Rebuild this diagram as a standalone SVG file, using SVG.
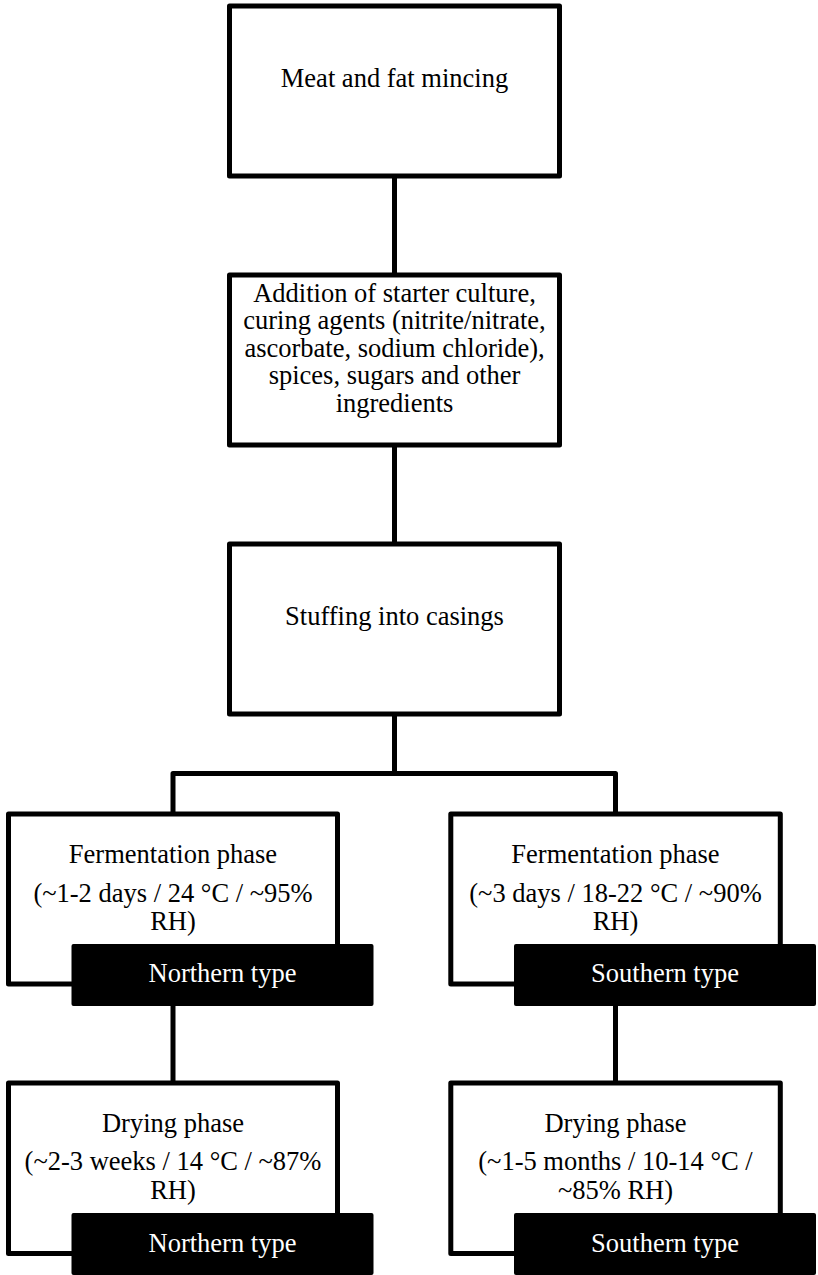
<svg xmlns="http://www.w3.org/2000/svg" width="818" height="1275" viewBox="0 0 818 1275">
<style>
.box{fill:#fff;stroke:#000;stroke-width:5;stroke-linejoin:round}
.lbl{fill:#000}
.conn{fill:none;stroke:#000;stroke-width:5;stroke-linejoin:round}
.w{fill:#fff}
</style>
<rect width="818" height="1275" fill="#fff"/>
<g id="connectors">
<path class="conn" d="M394.5 175 V277"/>
<path class="conn" d="M394.5 444 V546"/>
<path class="conn" d="M394.5 713 V773.5"/>
<path class="conn" d="M173 816 V773.5 H615.5 V816"/>
<path class="conn" d="M173 1004 V1085"/>
<path class="conn" d="M615.5 1004 V1085"/>
</g>
<g id="mincing" font-family="'Liberation Serif', serif" font-size="26.5" text-anchor="middle">
<rect class="box" x="229.5" y="6" width="330" height="170"/>
<text x="394.5" y="87">Meat and fat mincing</text>
</g>
<g id="addition" font-family="'Liberation Serif', serif" font-size="26.5" text-anchor="middle">
<rect class="box" x="229.5" y="275" width="330" height="170"/>
<text x="394.5" y="301.7">Addition of starter culture,</text>
<text x="394.5" y="329.2">curing agents (nitrite/nitrate,</text>
<text x="394.5" y="356.7">ascorbate, sodium chloride),</text>
<text x="394.5" y="384.2">spices, sugars and other</text>
<text x="394.5" y="411.7">ingredients</text>
</g>
<g id="stuffing" font-family="'Liberation Serif', serif" font-size="26.5" text-anchor="middle">
<rect class="box" x="229.5" y="544" width="330" height="170"/>
<text x="394.5" y="625">Stuffing into casings</text>
</g>
<g id="ferm-north" font-family="'Liberation Serif', serif" font-size="26.5" text-anchor="middle">
<rect class="box" x="8.5" y="814" width="329" height="170"/>
<text x="173" y="863">Fermentation phase</text>
<text x="173" y="902">(~1-2 days / 24 °C / ~95%</text>
<text x="173" y="930">RH)</text>
<rect class="lbl" x="71.5" y="944" width="302" height="62" rx="2"/>
<text class="w" x="222.5" y="982">Northern type</text>
</g>
<g id="ferm-south" font-family="'Liberation Serif', serif" font-size="26.5" text-anchor="middle">
<rect class="box" x="450.8" y="814" width="329.5" height="170"/>
<text x="615.5" y="863">Fermentation phase</text>
<text x="615.5" y="902">(~3 days / 18-22 °C / ~90%</text>
<text x="615.5" y="930">RH)</text>
<rect class="lbl" x="514" y="944" width="302" height="62" rx="2"/>
<text class="w" x="665" y="982">Southern type</text>
</g>
<g id="dry-north" font-family="'Liberation Serif', serif" font-size="26.5" text-anchor="middle">
<rect class="box" x="8.5" y="1083" width="329" height="170.5"/>
<text x="173" y="1132">Drying phase</text>
<text x="173" y="1170">(~2-3 weeks / 14 °C / ~87%</text>
<text x="173" y="1198.5">RH)</text>
<rect class="lbl" x="71.5" y="1213" width="302" height="62" rx="2"/>
<text class="w" x="222.5" y="1251.5">Northern type</text>
</g>
<g id="dry-south" font-family="'Liberation Serif', serif" font-size="26.5" text-anchor="middle">
<rect class="box" x="450.8" y="1083" width="329.5" height="170.5"/>
<text x="615.5" y="1132">Drying phase</text>
<text x="615.5" y="1170">(~1-5 months / 10-14 °C /</text>
<text x="615.5" y="1198.5">~85% RH)</text>
<rect class="lbl" x="514" y="1213" width="302" height="62" rx="2"/>
<text class="w" x="665" y="1251.5">Southern type</text>
</g>
</svg>
